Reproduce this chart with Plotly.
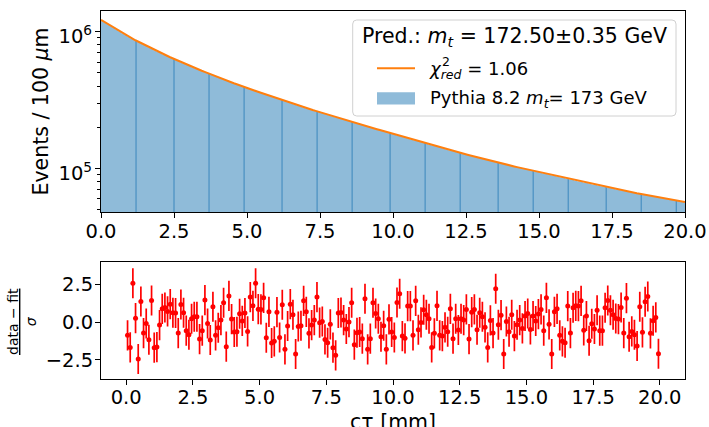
import numpy as np
import plotly.graph_objects as go

# ---------------- data ----------------
bin_width_mm = 0.1
events_per_bin = [
    1201000, 1166000, 1132000, 1099000, 1066000, 1035000, 1005000, 975000, 947000, 919000,
    894000, 872000, 851000, 830000, 809000, 789000, 770000, 750000, 732000, 714000,
    697000, 682000, 667000, 653000, 639000, 625000, 611000, 598000, 585000, 573000,
    561000, 550000, 539000, 528000, 518000, 508000, 498000, 488000, 478000, 469000,
    460000, 452000, 444000, 436000, 428000, 420000, 413000, 405000, 398000, 391000,
    384000, 378000, 371000, 365000, 359000, 353000, 347000, 341000, 335000, 329000,
    324000, 319000, 314000, 309000, 304000, 299000, 294000, 289000, 285000, 280000,
    275900, 271700, 267600, 263600, 259600, 255700, 251800, 248000, 244300, 240600,
    237100, 233700, 230300, 227000, 223700, 220500, 217300, 214200, 211100, 208100,
    205000, 202100, 199200, 196400, 193600, 190900, 188200, 185500, 182900, 180300,
    177800, 175300, 172800, 170300, 167900, 165500, 163200, 160900, 158600, 156300,
    154100, 152000, 149900, 147900, 145800, 143800, 141900, 139900, 138000, 136100,
    134300, 132600, 130900, 129200, 127600, 125900, 124300, 122700, 121200, 119600,
    118200, 116800, 115400, 114000, 112600, 111300, 110000, 108700, 107400, 106100,
    104800, 103600, 102400, 101300, 100100, 98980, 97850, 96740, 95640, 94550,
    93440, 92400, 91360, 90340, 89330, 88330, 87340, 86360, 85390, 84440,
    83500, 82600, 81710, 80820, 79950, 79090, 78230, 77390, 76550, 75730,
    74960, 74200, 73450, 72710, 71980, 71250, 70530, 69820, 69110, 68410,
    67770, 67140, 66520, 65910, 65310, 64710, 64110, 63520, 62940, 62360,
    61820, 61280, 60750, 60220, 59700, 59180, 58660, 58150, 57650, 57150,
]
fit_at_range_ends = [1219000, 56890]   # fitted curve at ctau = 0 and 20 mm

residuals = [
    -0.88, -1.68, 2.58, 0.26, -2.45, 1.37, -0.73, -0.09, -1.17, 1.43,
    -1.70, -1.66, -0.20, 0.88, 0.97, 0.71, 1.19, 0.62, 0.60, -0.73,
    1.17, 0.62, -0.57, -0.84, 0.22, 0.35, 0.35, -1.13, -0.57, 1.46,
    -0.09, -1.19, 1.02, -0.88, -0.38, 0.13, 1.28, -1.63, 1.74, 0.20,
    -0.66, -0.64, 0.55, 0.08, 0.60, -0.62, 1.66, 1.08, 2.58, 0.86,
    0.84, 1.61, -1.04, 0.68, -1.39, -1.28, 0.66, -1.02, 1.15, -1.81,
    -0.26, 1.19, 0.49, -2.12, -0.29, -0.24, 1.41, 0.68, -0.75, -0.20,
    0.13, 1.66, -0.04, 0.04, -1.15, -1.37, -0.15, -1.70, -2.21, 0.60,
    0.64, 0.13, -0.46, 0.00, 1.28, -1.50, -0.71, -0.66, -1.10, 1.55,
    -1.81, -1.10, 1.28, 0.57, 0.22, -0.97, -0.24, -1.81, 0.18, -0.66,
    -1.02, 1.30, 1.88, -0.93, -1.08, 1.06, 1.06, -0.88, 1.41, -0.51,
    -0.02, 0.82, 0.49, 0.22, -1.68, -0.75, 1.08, -0.88, -0.93, -0.35,
    -0.64, 0.88, -1.10, 0.22, -0.53, 0.22, 0.13, 0.84, -1.13, 0.66,
    0.84, -0.51, 0.62, 0.35, -0.35, -1.68, 0.11, -0.73, 2.21, -0.18,
    0.46, -2.12, 0.04, -0.64, 0.49, -0.93, -0.18, 0.13, -0.42, 0.40,
    0.57, -0.49, 0.40, 0.07, 0.53, 0.84, -0.57, 1.61, -0.15, -2.12,
    0.68, 0.88, -0.88, -1.28, -1.37, 1.06, -0.73, 0.95, 1.08, 1.06,
    1.41, -0.55, 0.40, -1.24, -0.11, -0.46, 0.79, -0.57, -0.57, 0.95,
    1.43, 0.79, 0.49, 0.24, 0.20, 0.97, -0.73, 1.59, -0.97, -0.62,
    -0.84, -1.59, 1.02, -0.68, 1.35, 1.70, -0.75, 0.09, 0.31, -2.10,
]
residual_err = [1.0] * len(residuals)

x_ticks = [0, 2.5, 5, 7.5, 10, 12.5, 15, 17.5, 20]
y_major = [1e5, 1e6]
y_major_text = ["10<sup>5</sup>", "10<sup>6</sup>"]
y_minor = [5e4, 6e4, 7e4, 8e4, 9e4, 2e5, 3e5, 4e5, 5e5, 6e5, 7e5, 8e5, 9e5]
resid_ticks = [-2.5, 0, 2.5]

# ---------------- derived ----------------
n_bins = len(events_per_bin)
edges = np.arange(n_bins + 1) * bin_width_mm
centres = edges[:-1] + bin_width_mm / 2
x_lo, x_hi = float(edges[0]), float(edges[-1])

LOG_RANGE = [4.680, 6.151]

# ---------------- layout helpers (pixels -> paper) ----------------
W, H = 709, 427
ML, MR, MT, MB = 101, 24, 11, 48
PW, PH = W - ML - MR, H - MT - MB


def px(p):
    return (p - ML) / PW


def py(p):
    return (H - MB - p) / PH


FONT = "DejaVu Sans"
BLUE_FILL = "rgba(31,119,180,0.5)"
ORANGE = "#ff7f0e"

fig = go.Figure()

# histogram (step filled)
fig.add_trace(go.Scatter(
    x=edges, y=list(events_per_bin) + [events_per_bin[-1]],
    mode="lines", line=dict(width=0, shape="hv", color=BLUE_FILL),
    fill="tozeroy", fillcolor=BLUE_FILL, showlegend=False, hoverinfo="skip",
    xaxis="x", yaxis="y",
))

# faint bin-edge (moire) lines that appear in the rendered histogram
idx = np.round(np.arange(1, 17) * 12.33).astype(int)
lx, ly = [], []
for i in idx:
    lx += [edges[i], edges[i], None]
    ly += [10 ** LOG_RANGE[0], max(events_per_bin[i - 1], events_per_bin[i]), None]
fig.add_trace(go.Scatter(
    x=lx, y=ly, mode="lines", line=dict(width=1, color="rgba(31,119,180,0.75)"),
    showlegend=False, hoverinfo="skip", xaxis="x", yaxis="y",
))

# fit curve
fig.add_trace(go.Scatter(
    x=[x_lo] + list(centres) + [x_hi],
    y=[fit_at_range_ends[0]] + list(events_per_bin) + [fit_at_range_ends[1]],
    mode="lines", line=dict(width=2, color=ORANGE),
    showlegend=False, xaxis="x", yaxis="y",
))

# residuals
fig.add_trace(go.Scatter(
    x=centres, y=residuals, mode="markers",
    marker=dict(color="red", size=5),
    error_y=dict(type="data", array=residual_err, color="red", thickness=1.7, width=0),
    showlegend=False, xaxis="x2", yaxis="y2",
))

axis_common = dict(
    showline=True, linecolor="black", linewidth=1.1, mirror=True,
    ticks="outside", ticklen=5, tickwidth=1.1, tickcolor="black",
    showgrid=False, zeroline=False, automargin=False,
    tickfont=dict(family=FONT, size=19.5, color="black"),
)

fig.update_layout(
    template="none",
    width=W, height=H,
    margin=dict(l=ML, r=MR, t=MT, b=MB, autoexpand=False),
    paper_bgcolor="white", plot_bgcolor="white",
    showlegend=False,
    xaxis=dict(domain=[0, 1], anchor="y", range=[x_lo, x_hi], ticklabelstandoff=-4,
               tickvals=x_ticks, tickformat=".1f", **axis_common),
    yaxis=dict(domain=[py(212.3), 1], anchor="x", type="log", range=LOG_RANGE,
               tickvals=y_major, ticktext=y_major_text, ticklabelshift=5,
               ticklabelstandoff=-1,
               minor=dict(tickvals=y_minor, ticks="outside", ticklen=2.8,
                          tickwidth=0.8, tickcolor="black"),
               **axis_common),
    xaxis2=dict(domain=[0, 1], anchor="y2", range=[-0.945, 20.945], ticklabelstandoff=-4,
                tickvals=x_ticks, tickformat=".1f", **axis_common),
    yaxis2=dict(domain=[0, py(262.3)], anchor="x2", range=[-3.78, 3.97],
                ticklabelstandoff=-2,
                tickvals=resid_ticks, tickformat=".1f", **axis_common),
)

# ---------------- legend (drawn by hand, matplotlib style) ----------------
bx0, bx1, by0, by1 = px(352.7), px(676), py(20), py(116)
rx, ry = 4 / PW, 4 / PH
box_path = (f"M {bx0 + rx},{by0} L {bx1 - rx},{by0} Q {bx1},{by0} {bx1},{by0 - ry} "
            f"L {bx1},{by1 + ry} Q {bx1},{by1} {bx1 - rx},{by1} L {bx0 + rx},{by1} "
            f"Q {bx0},{by1} {bx0},{by1 + ry} L {bx0},{by0 - ry} Q {bx0},{by0} {bx0 + rx},{by0} Z")
fig.add_shape(type="path", path=box_path, xref="paper", yref="paper",
              fillcolor="rgba(255,255,255,0.8)", line=dict(color="#d0d0d0", width=1),
              layer="above")
fig.add_shape(type="line", xref="paper", yref="paper",
              x0=px(377), x1=px(415), y0=py(68.3), y1=py(68.3),
              line=dict(color=ORANGE, width=2), layer="above")
fig.add_shape(type="rect", xref="paper", yref="paper",
              x0=px(377), x1=px(415), y0=py(92.3), y1=py(104.5),
              fillcolor=BLUE_FILL, line=dict(width=0), layer="above")

ann = []
ann.append(dict(text="Pred.: <i>m</i><sub><i>t</i></sub> = 172.50±0.35 GeV",
                x=px(514), y=py(37), xanchor="center", yanchor="middle",
                font=dict(family=FONT, size=20.5, color="black")))
ann.append(dict(text="<i>χ</i><sub><i>red</i></sub> = 1.06",
                x=px(427), y=py(70), xanchor="left", yanchor="middle",
                font=dict(family=FONT, size=18, color="black")))
ann.append(dict(text="2", x=px(440), y=py(61), xanchor="left", yanchor="middle",
                font=dict(family=FONT, size=12.5, color="black")))
ann.append(dict(text="Pythia 8.2 <i>m</i><sub><i>t</i></sub>= 173 GeV",
                x=px(428), y=py(99), xanchor="left", yanchor="middle",
                font=dict(family=FONT, size=18, color="black")))
# axis titles
ann.append(dict(text="Events / 100 <i>μ</i>m", x=px(40), y=py(111.5),
                xanchor="center", yanchor="middle", textangle=-90,
                font=dict(family=FONT, size=20.5, color="black")))
ann.append(dict(text="<u>data − fit</u><br><i>σ</i>", x=px(22), y=py(321),
                xanchor="center", yanchor="middle", textangle=-90,
                font=dict(family=FONT, size=14, color="black")))
ann.append(dict(text="cτ [mm]", x=0.5, y=py(408), xanchor="center", yanchor="top",
                font=dict(family=FONT, size=20.5, color="black")))
for a in ann:
    a.update(xref="paper", yref="paper", showarrow=False)
fig.update_layout(annotations=ann)

fig.write_html("out.html", config={"displayModeBar": False},
               post_script="document.body.style.margin='0px';")
